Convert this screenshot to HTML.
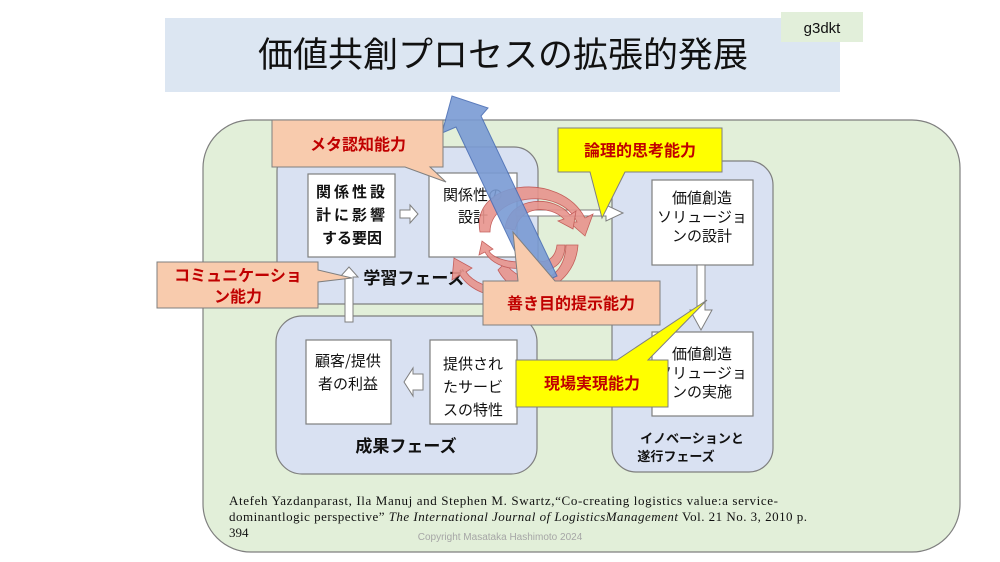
<!DOCTYPE html>
<html><head><meta charset="utf-8"><style>
html,body{margin:0;padding:0;background:#fff;width:1000px;height:562px;overflow:hidden}
svg{display:block}
text{font-family:"Liberation Sans","Noto Sans CJK JP",sans-serif}
text.j{font-family:"Noto Sans CJK JP",sans-serif}
text.s{font-family:"Liberation Serif",serif}
</style></head><body>
<svg width="1000" height="562" viewBox="0 0 1000 562" xmlns="http://www.w3.org/2000/svg">
<rect x="165" y="18" width="675" height="74" fill="#dce6f2"/>
<text x="503" y="67" font-size="35" text-anchor="middle" class="j" fill="#111">価値共創プロセスの拡張的発展</text>
<rect x="781" y="12" width="82" height="30" fill="#e2efda"/>
<text x="822" y="33" font-size="15" text-anchor="middle" fill="#111">g3dkt</text>

<rect x="203" y="120" width="757" height="432" rx="48" fill="#e2efd9" stroke="#7f7f7f" stroke-width="1.2"/>
<rect x="277" y="147" width="261" height="157" rx="24" fill="#d9e1f2" stroke="#7f7f7f" stroke-width="1.2"/>
<rect x="276" y="316" width="261" height="158" rx="26" fill="#d9e1f2" stroke="#7f7f7f" stroke-width="1.2"/>
<rect x="612" y="161" width="161" height="311" rx="24" fill="#d9e1f2" stroke="#7f7f7f" stroke-width="1.2"/>

<g fill="#fff" stroke="#7f7f7f" stroke-width="1.2">
<rect x="308" y="174" width="87" height="83"/>
<rect x="429" y="173" width="88" height="84"/>
<rect x="652" y="180" width="101" height="85"/>
<rect x="652" y="332" width="101" height="84"/>
<rect x="306" y="340" width="85" height="84"/>
<rect x="430" y="340" width="87" height="84"/>
</g>
<g font-size="15" fill="#111" text-anchor="middle">
<text class="j" x="352" y="197" font-weight="bold" letter-spacing="3">関係性設</text>
<text class="j" x="352" y="220" font-weight="bold" letter-spacing="3">計に影響</text>
<text class="j" x="352" y="243" font-weight="bold">する要因</text>
<text class="j" x="473" y="200">関係性の</text>
<text class="j" x="473" y="222">設計</text>
<text class="j" x="702" y="203">価値創造</text>
<text class="j" x="702" y="222">ソリュージョ</text>
<text class="j" x="702" y="241">ンの設計</text>
<text class="j" x="702" y="359">価値創造</text>
<text class="j" x="702" y="378">ソリュージョ</text>
<text class="j" x="702" y="397">ンの実施</text>
<text class="j" x="348" y="366">顧客/提供</text>
<text class="j" x="348" y="389">者の利益</text>
<text class="j" x="473" y="369">提供され</text>
<text class="j" x="473" y="392">たサービ</text>
<text class="j" x="473" y="415">スの特性</text>
<text class="j" x="414" y="284" font-size="17" font-weight="bold">学習フェーズ</text>
<text class="j" x="406" y="452" font-size="17" font-weight="bold">成果フェーズ</text>
<text class="j" x="692" y="443" font-size="13" font-weight="bold">イノベーションと</text>
<text class="j" x="676" y="461" font-size="13" font-weight="bold">遂行フェーズ</text>
</g>

<g fill="#fff" stroke="#7f7f7f" stroke-width="1">
<path d="M400,210 h10 v-5 l8,9 -8,9 v-5 h-10z"/>
<path d="M516,210 h90 v-5 l17,8 -17,8 v-5 h-90z"/>
<path d="M697,265 h8 v45 h7 l-11,20 -11,-20 h7z"/>
<path d="M423,374 h-10 v-6 l-9,14 9,14 v-6 h10z"/>
<path d="M345,322 v-45 h-5 l9,-10 9,10 h-5 v45z"/>
</g>

<g fill="#e8948d" stroke="#c0504d" stroke-width="0.8" opacity="0.9">
<path d="M480,232 C470,180 560,170 585,218 l8,-4 -8,22 -16,-14 8,0 C560,185 490,195 490,232z"/>
<path d="M505,228 C510,195 555,195 570,215 l6,-4 -3,18 -15,-8 6,-2 C550,205 520,205 515,230z"/>
<path d="M498,270 C520,310 575,290 578,245 l-12,0 C565,285 525,290 505,263z"/>
<path d="M520,258 C540,280 565,270 565,245 l-8,0 C555,262 540,268 527,252z"/>
<path d="M520,296 C490,300 470,290 460,275 l-8,5 2,-22 18,10 -6,4 C475,285 495,290 520,290z"/>
<path d="M520,268 C505,270 490,262 485,252 l-6,3 3,-14 11,8 -4,2 C492,257 505,262 520,262z"/>
</g>
<path d="M532,287 L557,276 L481,116 L488,108 L452,96 L442,133 L456,127 Z" fill="#7a9bd4" stroke="#4a6eb5" stroke-width="1" opacity="0.9"/>

<g stroke="#7f7f7f" stroke-width="1">
<path d="M272,120 H443 V167 H430 L446,182 L405,167 H272Z" fill="#f8cbad"/>
<path d="M558,128 H722 V172 H625 L602,218 L590,172 H558Z" fill="#ffff00"/>
<path d="M157,262 H318 V270 L352,278 L318,282 V308 H157Z" fill="#f8cbad"/>
<path d="M483,281 H518 L513,232 L555,281 H660 V325 H483Z" fill="#f8cbad"/>
<path d="M516,360 H617 L707,300 L648,360 H668 V407 H516Z" fill="#ffff00"/>
</g>
<g font-size="16" font-weight="bold" fill="#c00000" text-anchor="middle">
<text class="j" x="358" y="150">メタ認知能力</text>
<text class="j" x="640" y="156">論理的思考能力</text>
<text class="j" x="238" y="281">コミュニケーショ</text>
<text class="j" x="238" y="302">ン能力</text>
<text class="j" x="571" y="309">善き目的提示能力</text>
<text class="j" x="592" y="389">現場実現能力</text>
</g>

<g font-size="13" fill="#111">
<text class="s" x="229" y="505" textLength="549">Atefeh Yazdanparast, Ila Manuj and Stephen M. Swartz,“Co-creating logistics value:a service-</text>
<text class="s" x="229" y="521" textLength="578">dominantlogic perspective” <tspan font-style="italic">The International Journal of LogisticsManagement</tspan> Vol. 21 No. 3, 2010 p.</text>
<text class="s" x="229" y="537">394</text>
</g>
<text x="500" y="540" font-size="10" fill="#a6a6a6" text-anchor="middle">Copyright Masataka Hashimoto 2024</text>
</svg>
</body></html>
